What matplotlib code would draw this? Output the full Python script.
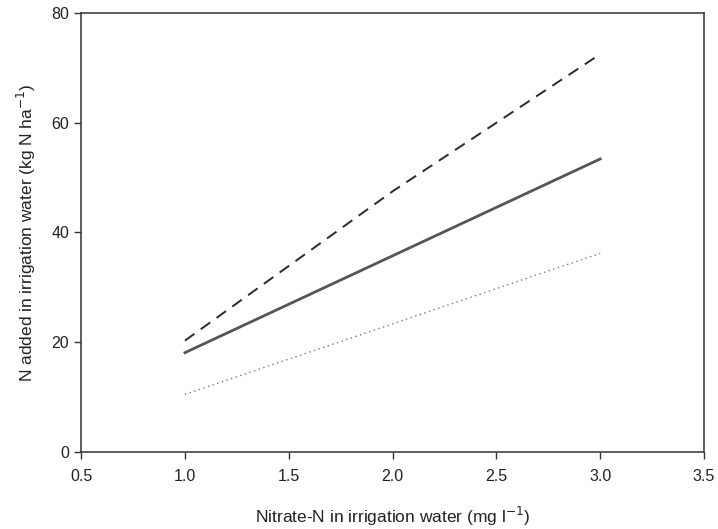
import matplotlib
matplotlib.use("Agg")
import matplotlib.pyplot as plt

plt.rcParams['font.family'] = ['Liberation Sans', 'DejaVu Sans']

# data
x_dash = [1.0, 2.0, 3.0]
y_dash = [20.3, 47.5, 72.5]
x_solid = [1.0, 3.0]
y_solid = [18.1, 53.4]
x_dot = [1.0, 3.0]
y_dot = [10.5, 36.2]

xticks = [0.5, 1.0, 1.5, 2.0, 2.5, 3.0, 3.5]
yticks = [0, 20, 40, 60, 80]

fig = plt.figure(figsize=(7.18, 5.29), dpi=100)
ax = fig.add_axes([0.113, 0.1456, 0.8675, 0.8298])

ax.plot(x_dash, y_dash, color="#2a2a2a", lw=1.4, ls=(0, (6, 4)))
ax.plot(x_solid, y_solid, color="#555555", lw=2.0)
ax.plot(x_dot, y_dot, color="#777777", lw=1.0, ls=(0, (1, 2.5)))

ax.set_xlim(0.5, 3.5)
ax.set_ylim(0, 80)
ax.set_xticks(xticks)
ax.set_xticklabels([f"{v:.1f}" for v in xticks])
ax.set_yticks(yticks)
ax.tick_params(direction="out", length=5, width=1, labelsize=11.5, color="#333333", labelcolor="#222222")
ax.tick_params(axis="x", pad=7)
for s in ax.spines.values():
    s.set_color("#333333")
    s.set_linewidth(1.1)

ax.set_xlabel("Nitrate-N in irrigation water (mg l$^{-1}$)", fontsize=12.5, labelpad=15, color="#222222")
ax.set_ylabel("N added in irrigation water (kg N ha$^{-1}$)", fontsize=12.5, labelpad=10, color="#222222")

fig.savefig("out.png", dpi=100)
